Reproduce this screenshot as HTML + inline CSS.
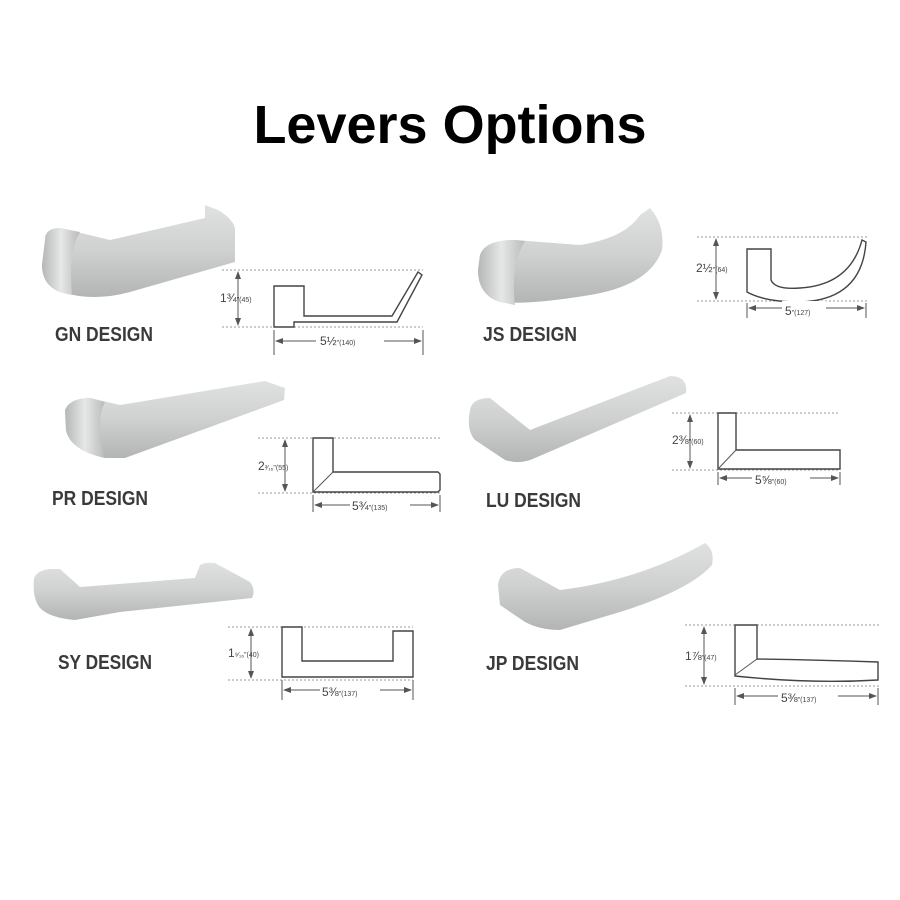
<!DOCTYPE html>
<html><head><meta charset="utf-8"><style>
html,body{margin:0;padding:0;background:#fff;width:900px;height:900px;overflow:hidden}
svg{display:block}
.t{font-family:"Liberation Sans",sans-serif}
.lbl{font-family:"Liberation Sans",sans-serif;font-weight:bold;font-size:20px;fill:#3a3a3a}
.dim{font-family:"Liberation Sans",sans-serif;font-size:12px;fill:#444}
.sm{font-size:7px}
.dot{stroke:#999;stroke-width:1;stroke-dasharray:2 2}
.ln{stroke:#555;stroke-width:1;fill:none}
.sh{stroke:#444;stroke-width:1.4;fill:#fff}
</style></head><body>
<svg width="900" height="900" viewBox="0 0 900 900" xmlns="http://www.w3.org/2000/svg">
<defs>
<linearGradient id="g" x1="0" y1="0" x2="0" y2="1">
<stop offset="0" stop-color="#e0e2e1"/><stop offset=".5" stop-color="#cfd1d0"/><stop offset="1" stop-color="#b3b5b4"/>
</linearGradient>
<linearGradient id="g2" x1="0" y1="0" x2="1" y2="0">
<stop offset="0" stop-color="#b5b7b6"/><stop offset=".5" stop-color="#e6e7e7"/><stop offset="1" stop-color="#b9bbba"/>
</linearGradient>
<marker id="a" markerWidth="8" markerHeight="6" refX="7" refY="3" orient="auto-start-reverse"><path d="M0,0 L8,3 L0,6 z" fill="#555"/></marker>
</defs>
<text x="450" y="143" text-anchor="middle" class="t" font-weight="bold" font-size="54" fill="#000">Levers Options</text>

<!-- GN lever -->
<path d="M45,240 Q45,228 60,228 L110,240 L205,218 L205,205 L218,210 Q232,218 235,228 L235,262 L130,292 Q95,302 60,292 Q42,285 42,265 Z" fill="url(#g)"/>
<path d="M45,240 Q45,228 60,228 L80,232 Q68,250 72,295 L60,292 Q42,285 42,265 Z" fill="url(#g2)"/>
<text x="55" y="341" class="lbl" textLength="98" lengthAdjust="spacingAndGlyphs">GN DESIGN</text>
<line x1="222" y1="270" x2="423" y2="270" class="dot"/><line x1="222" y1="327" x2="423" y2="327" class="dot"/>
<line x1="238" y1="272" x2="238" y2="325" class="ln" marker-start="url(#a)" marker-end="url(#a)"/>
<text x="220" y="302" class="dim">1¾<tspan class="sm">"(45)</tspan></text>
<path d="M274,327 L274,286 L304,286 L304,316 L392,316 L418,272 L422,275 L397,322 L294,322 L294,327 Z" class="sh"/>
<line x1="274" y1="330" x2="274" y2="355" class="ln"/><line x1="423" y1="330" x2="423" y2="355" class="ln"/>
<line x1="276" y1="341" x2="421" y2="341" class="ln" marker-start="url(#a)" marker-end="url(#a)"/>
<rect x="316" y="333" width="68" height="14" fill="#fff"/>
<text x="320" y="345" class="dim">5½<tspan class="sm">"(140)</tspan></text>

<!-- JS lever -->
<path d="M480,255 Q485,240 515,240 L580,245 Q625,238 640,215 L650,208 Q665,225 662,250 Q650,285 590,295 Q530,305 500,302 Q478,295 478,270 Z" fill="url(#g)"/>
<path d="M480,255 Q485,240 515,240 L525,241 Q510,265 515,305 L500,302 Q478,295 478,270 Z" fill="url(#g2)"/>
<text x="483" y="341" class="lbl" textLength="94" lengthAdjust="spacingAndGlyphs">JS DESIGN</text>
<line x1="697" y1="237" x2="868" y2="237" class="dot"/><line x1="697" y1="301" x2="868" y2="301" class="dot"/>
<line x1="716" y1="239" x2="716" y2="299" class="ln" marker-start="url(#a)" marker-end="url(#a)"/>
<text x="696" y="272" class="dim">2½<tspan class="sm">"(64)</tspan></text>
<path d="M747,290 L747,249 L771,249 L771,280 Q775,290 800,288 Q850,285 862,240 L866,242 Q862,300 800,302 Q765,302 747,292 Z" class="sh"/>
<line x1="747" y1="303" x2="747" y2="318" class="ln"/><line x1="866" y1="303" x2="866" y2="318" class="ln"/>
<line x1="749" y1="308" x2="864" y2="308" class="ln" marker-start="url(#a)" marker-end="url(#a)"/>
<rect x="782" y="301" width="44" height="14" fill="#fff"/>
<text x="785" y="315" class="dim">5<tspan class="sm">"(127)</tspan></text>

<!-- PR lever -->
<path d="M65,410 Q70,398 90,398 L120,405 L265,381 L285,388 L284,400 L125,458 L105,458 Q70,450 66,430 Z" fill="url(#g)"/>
<path d="M65,410 Q70,398 90,398 L105,402 Q95,420 105,458 Q70,450 66,430 Z" fill="url(#g2)"/>
<text x="52" y="505" class="lbl" textLength="96" lengthAdjust="spacingAndGlyphs">PR DESIGN</text>
<line x1="258" y1="438" x2="440" y2="438" class="dot"/><line x1="258" y1="493" x2="440" y2="493" class="dot"/>
<line x1="285" y1="440" x2="285" y2="491" class="ln" marker-start="url(#a)" marker-end="url(#a)"/>
<text x="258" y="470" class="dim">2<tspan class="sm">³⁄₁₆"(55)</tspan></text>
<path d="M313,492 L313,438 L333,438 L333,472 L438,472 L440,474 L440,490 L438,492 Z" class="sh"/>
<line x1="313" y1="492" x2="333" y2="472" class="ln"/>
<line x1="313" y1="495" x2="313" y2="512" class="ln"/><line x1="440" y1="495" x2="440" y2="512" class="ln"/>
<line x1="315" y1="505" x2="438" y2="505" class="ln" marker-start="url(#a)" marker-end="url(#a)"/>
<rect x="350" y="498" width="60" height="14" fill="#fff"/>
<text x="352" y="510" class="dim">5¾<tspan class="sm">"(135)</tspan></text>

<!-- LU lever -->
<path d="M470,410 Q472,398 490,398 L530,430 L670,376 Q688,376 686,393 L535,458 Q520,465 505,460 L475,440 Q466,430 470,410 Z" fill="url(#g)"/>
<text x="486" y="507" class="lbl" textLength="95" lengthAdjust="spacingAndGlyphs">LU DESIGN</text>
<line x1="672" y1="413" x2="840" y2="413" class="dot"/><line x1="672" y1="470" x2="840" y2="470" class="dot"/>
<line x1="690" y1="415" x2="690" y2="468" class="ln" marker-start="url(#a)" marker-end="url(#a)"/>
<text x="672" y="444" class="dim">2⅜<tspan class="sm">"(60)</tspan></text>
<path d="M718,469 L718,413 L736,413 L736,450 L840,450 L840,469 Z" class="sh"/>
<line x1="718" y1="469" x2="736" y2="450" class="ln"/>
<line x1="718" y1="472" x2="718" y2="485" class="ln"/><line x1="840" y1="472" x2="840" y2="485" class="ln"/>
<line x1="720" y1="478" x2="838" y2="478" class="ln" marker-start="url(#a)" marker-end="url(#a)"/>
<rect x="752" y="471" width="58" height="14" fill="#fff"/>
<text x="755" y="484" class="dim">5⅝<tspan class="sm">"(60)</tspan></text>

<!-- SY lever -->
<path d="M34,578 Q38,570 50,569 L60,569 L80,587 L195,578 L200,565 Q205,562 215,563 L250,582 Q256,590 252,598 L120,612 L75,620 Q50,618 40,608 Q32,598 34,578 Z" fill="url(#g)"/>
<text x="58" y="669" class="lbl" textLength="94" lengthAdjust="spacingAndGlyphs">SY DESIGN</text>
<line x1="228" y1="627" x2="413" y2="627" class="dot"/><line x1="228" y1="680" x2="413" y2="680" class="dot"/>
<line x1="251" y1="629" x2="251" y2="678" class="ln" marker-start="url(#a)" marker-end="url(#a)"/>
<text x="228" y="657" class="dim">1<tspan class="sm">⁹⁄₁₆"(40)</tspan></text>
<path d="M282,677 L282,627 L302,627 L302,661 L393,661 L393,631 L413,631 L413,677 Z" class="sh"/>
<line x1="282" y1="680" x2="282" y2="700" class="ln"/><line x1="413" y1="680" x2="413" y2="700" class="ln"/>
<line x1="284" y1="690" x2="411" y2="690" class="ln" marker-start="url(#a)" marker-end="url(#a)"/>
<rect x="320" y="683" width="60" height="14" fill="#fff"/>
<text x="322" y="696" class="dim">5⅜<tspan class="sm">"(137)</tspan></text>

<!-- JP lever -->
<path d="M498,585 Q500,568 520,568 L560,590 Q640,580 705,543 Q715,550 712,565 Q690,590 620,612 L560,630 Q540,630 525,622 L500,605 Z" fill="url(#g)"/>
<text x="486" y="670" class="lbl" textLength="93" lengthAdjust="spacingAndGlyphs">JP DESIGN</text>
<line x1="685" y1="625" x2="880" y2="625" class="dot"/><line x1="685" y1="686" x2="880" y2="686" class="dot"/>
<line x1="704" y1="627" x2="704" y2="684" class="ln" marker-start="url(#a)" marker-end="url(#a)"/>
<text x="685" y="660" class="dim">1⅞<tspan class="sm">"(47)</tspan></text>
<path d="M735,674 L735,625 L757,625 L757,659 Q820,660 878,662 L878,680 Q810,684 735,676 Z" class="sh"/>
<line x1="735" y1="675" x2="757" y2="659" class="ln"/>
<line x1="735" y1="688" x2="735" y2="705" class="ln"/><line x1="878" y1="688" x2="878" y2="705" class="ln"/>
<line x1="737" y1="696" x2="876" y2="696" class="ln" marker-start="url(#a)" marker-end="url(#a)"/>
<rect x="778" y="689" width="60" height="14" fill="#fff"/>
<text x="781" y="702" class="dim">5⅜<tspan class="sm">"(137)</tspan></text>
</svg>
</body></html>
